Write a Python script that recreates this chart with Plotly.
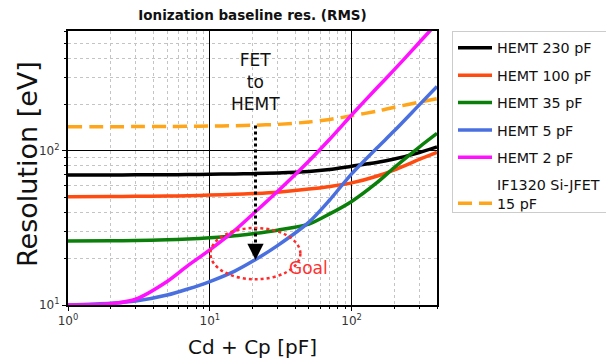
import math
import plotly.graph_objects as go

# ---------------- data ----------------
cap_pf = [1, 2, 3, 5, 7, 10, 15, 20, 30, 50, 70, 100, 150, 200, 300, 400]

hemt_230 = [69.8, 69.8, 69.9, 70.0, 70.2, 70.5, 70.9, 71.2, 72.0, 73.6, 75.8, 79.5, 84.0, 88.5, 97.5, 106.0]
hemt_100 = [50.5, 50.6, 50.7, 50.9, 51.2, 51.7, 52.3, 52.9, 54.0, 56.5, 58.8, 62.0, 68.5, 75.3, 88.0, 97.8]
hemt_35 = [26.0, 26.1, 26.2, 26.5, 26.8, 27.3, 28.1, 29.0, 30.6, 33.5, 39.0, 47.0, 62.0, 78.0, 106.0, 130.0]
hemt_5 = [10.0, 10.25, 10.6, 11.6, 12.7, 14.2, 16.6, 19.2, 24.3, 34.5, 48.0, 71.0, 104.0, 135.0, 199.0, 262.0]
hemt_2 = [10.0, 10.2, 10.9, 14.2, 18.0, 22.8, 30.5, 38.7, 54.5, 86.0, 119.0, 171.0, 255.0, 337.0, 505.0, 675.0]
jfet_15 = [143.5, 143.6, 143.8, 144.1, 144.5, 145.0, 145.8, 146.7, 148.6, 154.0, 160.0, 169.0, 181.0, 192.0, 207.0, 218.0]

series_names = ["HEMT 230 pF", "HEMT 100 pF", "HEMT 35 pF", "HEMT 5 pF", "HEMT 2 pF",
                "IF1320 Si-JFET<br>15 pF"]
series_values = [hemt_230, hemt_100, hemt_35, hemt_5, hemt_2, jfet_15]
series_colors = ["#000000", "#ff4a10", "#0a800a", "#4a70e0", "#ff10ff", "#ffa51a"]

x_tickvals = [1, 10, 100]
x_ticktext = ["10<sup>0</sup>", "10<sup>1</sup>", "10<sup>2</sup>"]
y_tickvals = [10, 100]
y_ticktext = ["10<sup>1</sup>", "10<sup>2</sup>"]
x_minor_vals = [2, 3, 4, 5, 6, 7, 8, 9, 20, 30, 40, 50, 60, 70, 80, 90, 200, 300, 400]
y_minor_vals = [20, 30, 40, 50, 60, 70, 80, 90, 200, 300, 400, 500, 600]

x_limits = [1, 400]
y_limits = [10, 600]

# annotation anchors (data units)
arrow_c = 21.0
arrow_top_r = 146.0
arrow_tip_r = 19.6
goal_c0, goal_c1 = 10.1, 43.5
goal_r0, goal_r1 = 14.7, 31.6

FONT = "DejaVu Sans"

fig = go.Figure()

# draw the dashed JFET first so HEMT curves lie over it; legend order via legendrank
order = [5, 0, 1, 2, 3, 4]
for i in order:
    dash = "14px,7px" if i == 5 else "solid"
    fig.add_trace(go.Scatter(
        x=cap_pf, y=series_values[i], mode="lines", name=series_names[i],
        legendgroup="g%d" % i,
        line=dict(color=series_colors[i], width=3.5, dash=dash, shape="spline", smoothing=0.8),
        legendrank=i + 1, hoverinfo="skip"))

axis_common = dict(
    type="log", showline=True, linecolor="black", linewidth=2, mirror=True,
    showgrid=True, gridcolor="black", gridwidth=1.3, zeroline=False, automargin=False,
    ticks="outside", ticklen=4, tickwidth=1.2, tickcolor="black",
    tickfont=dict(family=FONT, size=12, color="#333333"),
)

fig.update_xaxes(
    **axis_common,
    range=[math.log10(x_limits[0]), math.log10(x_limits[1])],
    tickmode="array", tickvals=x_tickvals, ticktext=x_ticktext,
    minor=dict(tickmode="array", tickvals=x_minor_vals, showgrid=True, gridcolor="#c4c4c4",
               griddash="dot", gridwidth=1, ticks="outside", ticklen=2, tickcolor="black"),
    title=dict(text="Cd + Cp [pF]", font=dict(family=FONT, size=20, color="#111111"), standoff=13),
)
fig.update_yaxes(
    **axis_common,
    range=[math.log10(y_limits[0]), math.log10(y_limits[1])],
    tickmode="array", tickvals=y_tickvals, ticktext=y_ticktext,
    minor=dict(tickmode="array", tickvals=y_minor_vals, showgrid=True, gridcolor="#c4c4c4",
               griddash="dot", gridwidth=1, ticks="outside", ticklen=2, tickcolor="black"),
)

# y-axis title placed as a rotated text
fig.add_annotation(text="Resolution [eV]", xref="paper", yref="paper",
                   x=(27 - 68) / 369.0, y=0.5 + (168 - 164) / 274.0,
                   xanchor="center", yanchor="middle", textangle=-90, showarrow=False,
                   font=dict(family=FONT, size=27, color="#111111"))

# dotted "FET to HEMT" arrow
fig.add_shape(type="line", xref="x", yref="y", x0=arrow_c, x1=arrow_c,
              y0=arrow_top_r, y1=arrow_tip_r * 1.12,
              line=dict(color="black", width=3, dash="dot"))
fig.add_annotation(x=math.log10(arrow_c), y=math.log10(arrow_tip_r), xref="x", yref="y",
                   text="", showarrow=True, ax=0, ay=-10, arrowhead=2, arrowsize=1.3,
                   arrowwidth=2.5, arrowcolor="black")
fig.add_annotation(x=math.log10(arrow_c), y=math.log10(282), xref="x", yref="y",
                   text="FET<br>to<br>HEMT", showarrow=False,
                   font=dict(family=FONT, size=17, color="#111111"))

# red dotted "Goal" ellipse
fig.add_shape(type="circle", xref="x", yref="y", x0=goal_c0, x1=goal_c1, y0=goal_r0, y1=goal_r1,
              line=dict(color="#ff2a2a", width=2.5, dash="dot"))
fig.add_annotation(x=math.log10(49.5), y=math.log10(17.4), xref="x", yref="y",
                   text="Goal", showarrow=False,
                   font=dict(family=FONT, size=17, color="#ff3030"))

fig.update_layout(
    width=606, height=363,
    margin=dict(l=68, r=169, t=31, b=58),
    paper_bgcolor="white", plot_bgcolor="white",
    title=dict(text="<b>Ionization baseline res. (RMS)</b>", x=0.5, xref="paper",
               y=(363 - 15) / 363, yanchor="middle", yref="container",
               font=dict(family=FONT, size=13.5, color="#111111")),
    showlegend=True,
    legend=dict(xref="container", yref="container", x=452 / 606.0, y=1 - 31 / 363.0,
                xanchor="left", yanchor="top",
                bgcolor="white", bordercolor="#cccccc", borderwidth=1,
                font=dict(family=FONT, size=14.3, color="#111111"),
                traceorder="grouped", tracegroupgap=5.8, itemwidth=34, valign="bottom"),
    hovermode=False,
)

fig.write_html("out.html")
